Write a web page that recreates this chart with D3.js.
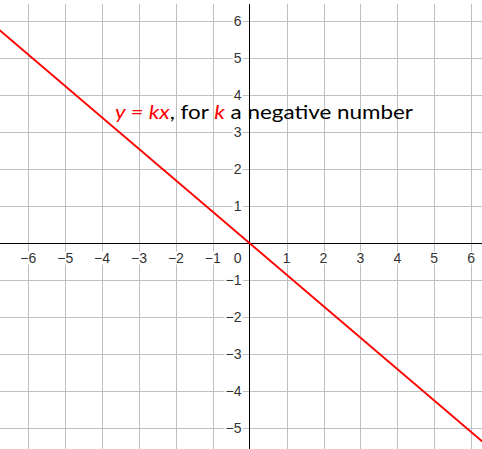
<!DOCTYPE html>
<html>
<head>
<meta charset="utf-8">
<script src="https://cdn.jsdelivr.net/npm/d3@7"></script>
<style>
  body { margin: 0; background: #fff; }
  svg { display: block; }
</style>
</head>
<body>
<script>
var w = 482,
    h = 449;

// data
var xTicks = [-6, -5, -4, -3, -2, -1, 1, 2, 3, 4, 5, 6];
var yTicks = [6, 5, 4, 3, 2, 1, -1, -2, -3, -4, -5];
var k = -0.85;
var lineX = [-6.8, 6.4];
var titleParts = [
  { t: "y = kx", red: true },
  { t: ", for ", red: false },
  { t: "k", red: true },
  { t: " a negative number", red: false }
];

var x = d3.scaleLinear().domain([-6.767, 6.295]).range([0, w]);
var y = d3.scaleLinear().domain([-5.56, 6.576]).range([h, 0]);
var gridTop = 4;

var svg = d3.select("body").append("svg")
    .attr("width", w)
    .attr("height", h);

// grid
var allX = d3.range(-6, 7), allY = d3.range(-5, 7);
svg.append("g").selectAll("line")
    .data(allX.filter(function(d) { return d != 0; }))
    .enter().append("line")
    .attr("x1", function(d) { return Math.round(x(d)) + 0.5; })
    .attr("x2", function(d) { return Math.round(x(d)) + 0.5; })
    .attr("y1", gridTop).attr("y2", h)
    .attr("stroke", "#c0c0c0");
svg.append("g").selectAll("line")
    .data(allY.filter(function(d) { return d != 0; }))
    .enter().append("line")
    .attr("y1", function(d) { return Math.round(y(d)) + 0.5; })
    .attr("y2", function(d) { return Math.round(y(d)) + 0.5; })
    .attr("x1", 0).attr("x2", w)
    .attr("stroke", "#c0c0c0");

// title
var title = svg.append("text")
    .attr("x", 115).attr("y", 119)
    .attr("font-family", "Lato, 'Open Sans', sans-serif")
    .attr("font-size", 20)
    .attr("textLength", 298)
    .attr("lengthAdjust", "spacingAndGlyphs");
title.selectAll("tspan")
    .data(titleParts)
    .enter().append("tspan")
    .attr("fill", function(d) { return d.red ? "#ff0000" : "#000"; })
    .attr("font-style", function(d) { return d.red ? "italic" : null; })
    .text(function(d) { return d.t; });

// axes
var ox = Math.round(x(0)) - 0.5, oy = Math.round(y(0)) + 0.5;
svg.append("line").attr("x1", 0).attr("x2", w).attr("y1", oy).attr("y2", oy)
    .attr("stroke", "#000");
svg.append("line").attr("x1", ox).attr("x2", ox).attr("y1", gridTop).attr("y2", h)
    .attr("stroke", "#000");

// tick labels
var fmt = d3.format("d");
function label(g, tx, ty, txt, anchor) {
  var t = g.append("text")
      .attr("x", tx).attr("y", ty)
      .attr("text-anchor", anchor)
      .attr("font-family", "'Liberation Sans', Arial, sans-serif")
      .attr("font-size", 14)
      .attr("fill", "#333")
      .text(txt);
  var b = t.node().getBBox();
  g.insert("rect", function() { return t.node(); })
      .attr("x", b.x - 1).attr("y", b.y + 2)
      .attr("width", b.width + 2).attr("height", b.height - 3)
      .attr("fill", "#fff");
}
var lg = svg.append("g");
xTicks.forEach(function(d) { label(lg, x(d), oy + 19, fmt(d), "middle"); });
yTicks.forEach(function(d) { label(lg, ox - 8, y(d) + 5, fmt(d), "end"); });
label(lg, ox - 8, oy + 19, "0", "end");

// the line y = kx
svg.append("path")
    .datum(lineX)
    .attr("d", d3.line().x(function(d) { return x(d); }).y(function(d) { return y(k * d); }))
    .attr("stroke", "#ff0000")
    .attr("stroke-width", 2)
    .attr("fill", "none");
</script>
</body>
</html>
